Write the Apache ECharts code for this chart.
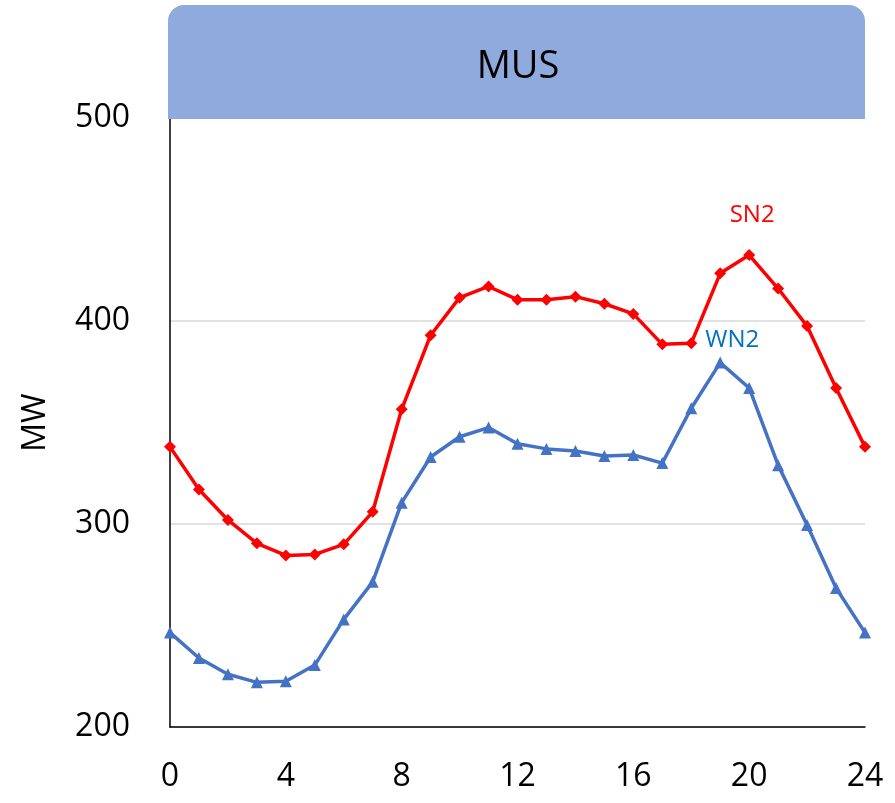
<!DOCTYPE html>
<html>
<head>
<meta charset="utf-8">
<script src="https://cdn.jsdelivr.net/npm/echarts@6/dist/echarts.min.js"></script>
<style>
  html, body { margin: 0; padding: 0; background: #fff; }
  #chart { width: 895px; height: 803px; }
</style>
</head>
<body>
<div id="chart"></div>
<script>
const hours = [0, 1, 2, 3, 4, 5, 6, 7, 8, 9, 10, 11, 12, 13, 14, 15, 16, 17, 18, 19, 20, 21, 22, 23, 24]
const sn2 = [338, 317, 302, 290.5, 284.5, 285, 290, 306, 356.5, 393, 411.5, 417, 410.5, 410.5, 412, 408.5, 403.5, 388.5, 389, 423.5, 432.5, 416, 397.5, 367, 338]
const wn2 = [246.5, 234, 226, 222, 222.5, 230.5, 253, 271.5, 310.5, 333, 343, 347.5, 339.5, 337, 336, 333.5, 334, 330, 357, 379.5, 367, 329, 299.5, 268.5, 246.5]
const yTicks = [200, 300, 400, 500]
const font = 'Open Sans'

const mycharts = echarts.init(document.getElementById('chart'))

const toPairs = (vals, labelAt, text, color, pos) => vals.map((v, i) => {
    if (i !== labelAt) return [hours[i], v]
    return {
        value: [hours[i], v],
        label: { show: true, formatter: text, color: color, fontSize: 24, fontFamily: font, ...pos }
    }
})

mycharts.setOption({
    animation: false,
    graphic: [
        {
            type: 'rect',
            left: 168,
            top: 5,
            shape: { width: 697, height: 114, r: [16, 16, 0, 0] },
            style: { fill: '#8FAADC' },
            z: 50
        }
    ],
    title: {
        text: 'MUS',
        left: 518,
        top: 48,
        padding: 0,
        textAlign: 'center',
        z: 60,
        textStyle: { color: '#000', fontSize: 38, fontWeight: 'normal', fontFamily: font }
    },
    grid: { left: 170, right: 30, top: 118, bottom: 76 },
    xAxis: {
        type: 'value',
        min: 0,
        max: 24,
        interval: 4,
        axisLine: { show: true, onZero: false, lineStyle: { color: '#000', width: 1.5 } },
        axisTick: { show: false },
        splitLine: { show: false },
        axisLabel: { color: '#000', fontSize: 32, fontFamily: font, margin: 34 }
    },
    yAxis: {
        type: 'value',
        min: yTicks[0],
        max: yTicks[yTicks.length - 1],
        interval: 100,
        name: 'MW',
        nameLocation: 'middle',
        nameGap: 118,
        nameRotate: 90,
        nameTextStyle: { color: '#000', fontSize: 32, fontFamily: font },
        axisLine: { show: true, lineStyle: { color: '#000', width: 1.5 } },
        axisTick: { show: false },
        splitLine: { lineStyle: { color: '#d9d9d9', width: 1.5 } },
        axisLabel: { color: '#000', fontSize: 32, fontFamily: font, margin: 40 }
    },
    series: [
        {
            name: 'SN2',
            type: 'line',
            data: toPairs(sn2, 20, 'SN2', '#FF0000', { position: 'top', distance: 22, offset: [3, 0] }),
            symbol: 'diamond',
            symbolSize: 12,
            lineStyle: { color: '#FF0000', width: 3.5 },
            itemStyle: { color: '#FF0000' },
            z: 3
        },
        {
            name: 'WN2',
            type: 'line',
            data: toPairs(wn2, 19, 'WN2', '#0070C0', { position: 'top', distance: 4, offset: [12, 0] }),
            symbol: 'triangle',
            symbolSize: 12,
            lineStyle: { color: '#4472C4', width: 3.5 },
            itemStyle: { color: '#4472C4' },
            z: 2
        }
    ]
})
</script>
</body>
</html>
